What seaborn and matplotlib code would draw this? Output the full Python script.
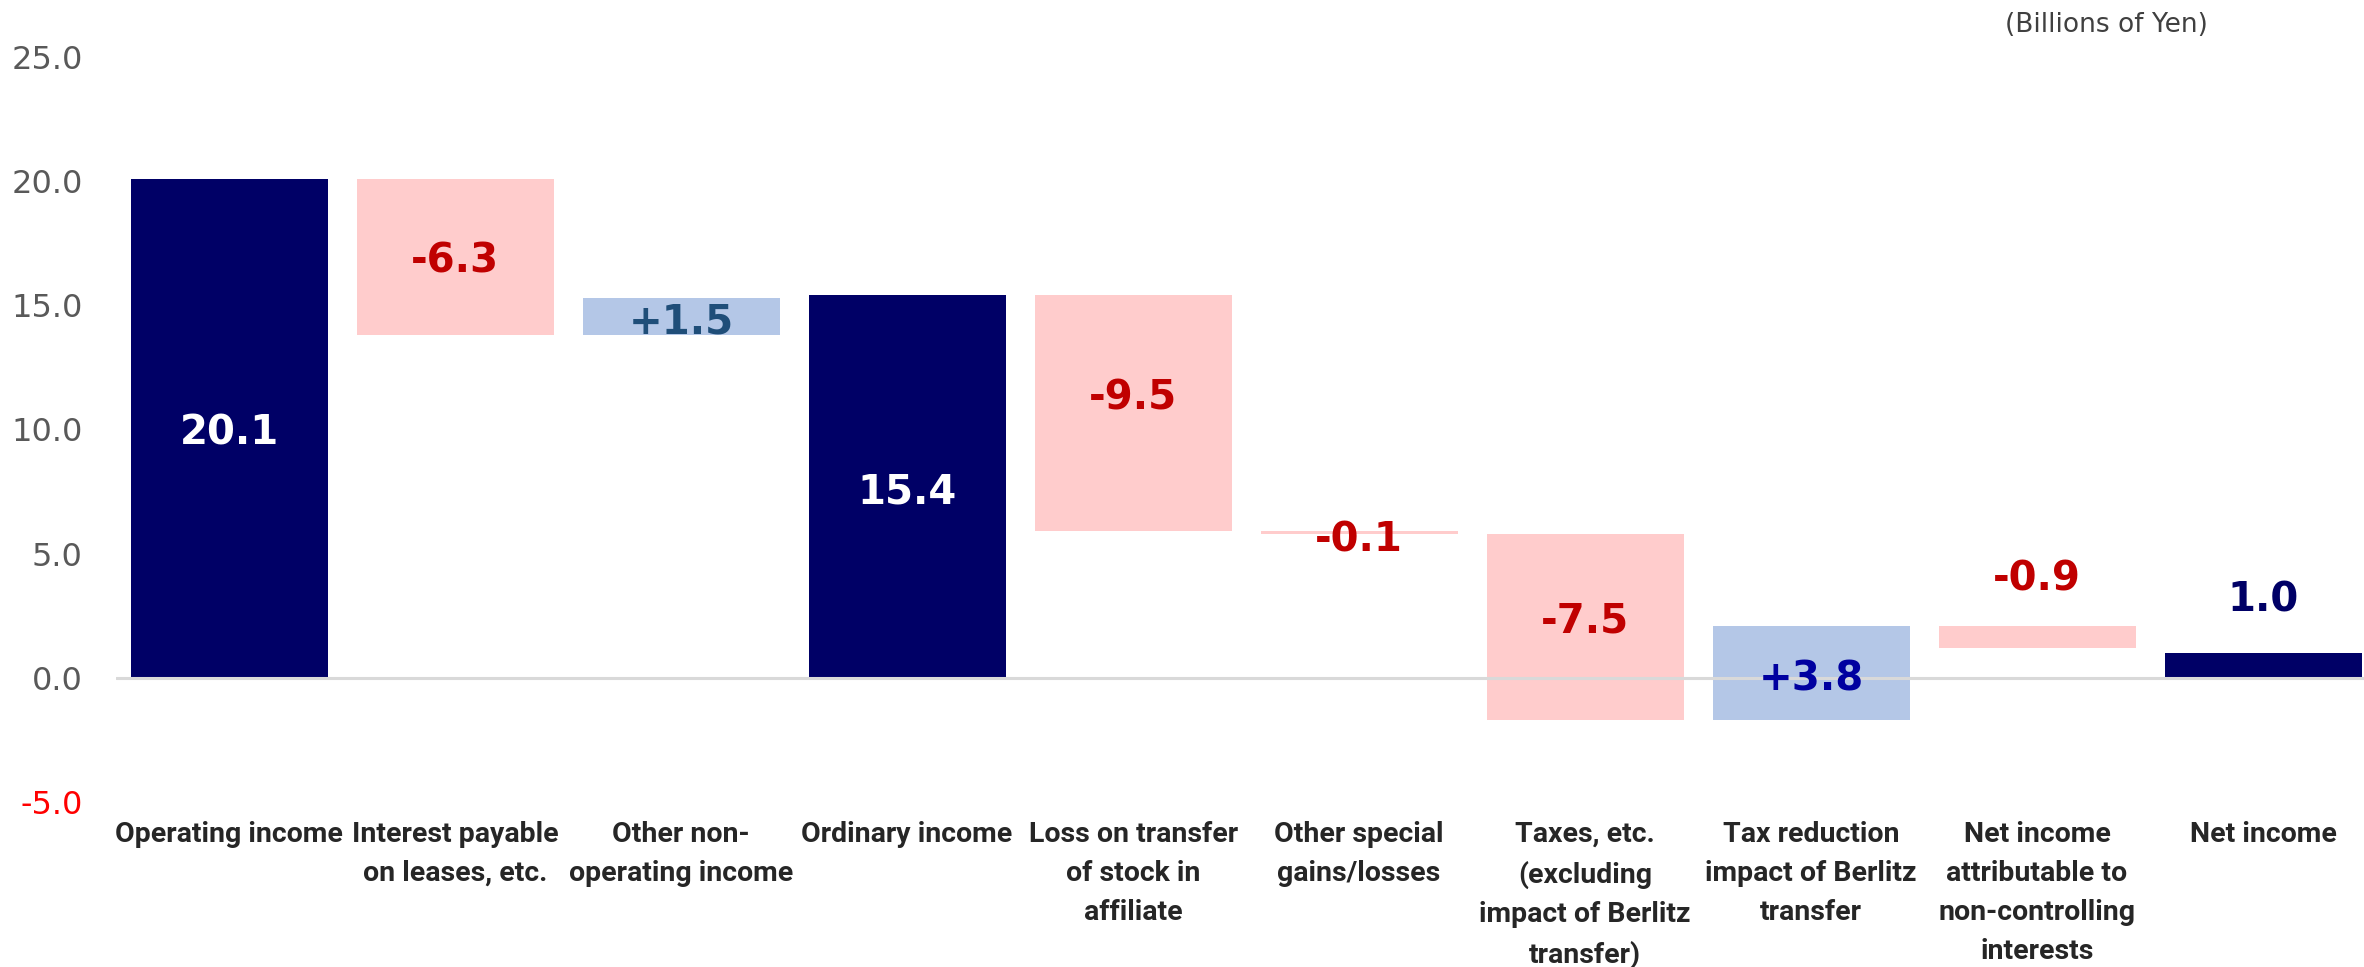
import matplotlib
matplotlib.use("Agg")
import matplotlib.pyplot as plt
import seaborn as sns
import pandas as pd

# ---- data -------------------------------------------------------------
categories = [
    "Operating income",
    "Interest payable\non leases, etc.",
    "Other non-\noperating income",
    "Ordinary income",
    "Loss on transfer\nof stock in\naffiliate",
    "Other special\ngains/losses",
    "Taxes, etc.\n(excluding\nimpact of Berlitz\ntransfer)",
    "Tax reduction\nimpact of Berlitz\ntransfer",
    "Net income\nattributable to\nnon-controlling\ninterests",
    "Net income",
]
values = [20.1, -6.3, 1.5, 15.4, -9.5, -0.1, -7.5, 3.8, -0.9, 1.0]
kinds = ["total", "decrease", "increase", "total", "decrease",
         "decrease", "decrease", "increase", "decrease", "total"]
value_labels = ["20.1", "-6.3", "+1.5", "15.4", "-9.5", "-0.1",
                "-7.5", "+3.8", "-0.9", "1.0"]
yticks = [-5.0, 0.0, 5.0, 10.0, 15.0, 20.0, 25.0]
unit_note = "(Billions of Yen)"

# ---- styling ----------------------------------------------------------
sns.set_style("white")
plt.rcParams["font.family"] = ["DejaVu Sans"]

kind_colors = {"total": "#000066", "decrease": "#FFCCCC", "increase": "#B4C7E7"}
label_colors = ["#FFFFFF", "#C00000", "#1F4E79", "#FFFFFF", "#C00000",
                "#C00000", "#C00000", "#0000A0", "#C00000", "#000066"]
# where each value label sits: inside the bar ("mid"), on it ("on") or above it ("above"),
# plus a small vertical nudge in points
label_place = ["mid", "mid", "mid", "mid", "mid", "on", "mid", "mid", "above", "above"]
label_nudge = [-4, -3, -4, -4, 11, -5, 4, -5, 33, 38]

# ---- waterfall geometry -----------------------------------------------
bottoms, heights = [], []
level = 0.0
for v, k in zip(values, kinds):
    if k == "total":
        bottoms.append(0.0)
        heights.append(v)
        level = v
    else:
        bottoms.append(level)
        heights.append(v)
        level += v

df = pd.DataFrame({"category": categories, "value": values, "kind": kinds})

fig = plt.figure(figsize=(23.64, 9.67), dpi=100)
ax = fig.add_axes([0.0491, 0.1706, 0.956, 0.7705])

sns.barplot(data=df, x="category", y="value", hue="kind", palette=kind_colors,
            dodge=False, width=0.872, saturation=1, legend=False,
            linewidth=0, ax=ax)

# lift each bar so it floats from the running total
for p in ax.patches:
    idx = int(round(p.get_x() + p.get_width() / 2))
    p.set_y(bottoms[idx])
    p.set_height(heights[idx])

ax.axhline(0, color="#D9D9D9", lw=2.2, zorder=3)

# value labels
for i, (lab, col, place, nudge) in enumerate(zip(value_labels, label_colors,
                                                  label_place, label_nudge)):
    b, h = bottoms[i], heights[i]
    if place == "mid":
        y = b + h / 2
    elif place == "above":
        y = max(b, b + h)
    else:
        y = b + h
    ax.annotate(lab, xy=(i, y), xytext=(0, nudge), textcoords="offset points",
                ha="center", va="center", fontsize=29, fontweight="bold",
                color=col, zorder=5)

ax.set_xlim(-0.5, len(categories) - 0.5)
ax.set_ylim(-5, 25)
ax.set_yticks(yticks)
ax.set_yticklabels([f"{t:.1f}" for t in yticks])
ax.tick_params(axis="y", length=0, pad=24, labelsize=23, labelcolor="#595959")
for t, lbl in zip(yticks, ax.get_yticklabels()):
    if t < 0:
        lbl.set_color("#FF0000")

ax.set_xticks(range(len(categories)))
ax.set_xticklabels(categories, fontsize=20.5, fontweight="bold", color="#262626",
                   family=["Roboto", "DejaVu Sans"],
                   linespacing=1.58, va="top")
ax.tick_params(axis="x", length=0, pad=13.5)
ax.set_xlabel("")
ax.set_ylabel("")
sns.despine(ax=ax, left=True, bottom=True)

fig.text(0.891, 0.974, unit_note, ha="center", va="center", fontsize=19,
         color="#404040")

fig.savefig("out.png", dpi=100, facecolor="white")
